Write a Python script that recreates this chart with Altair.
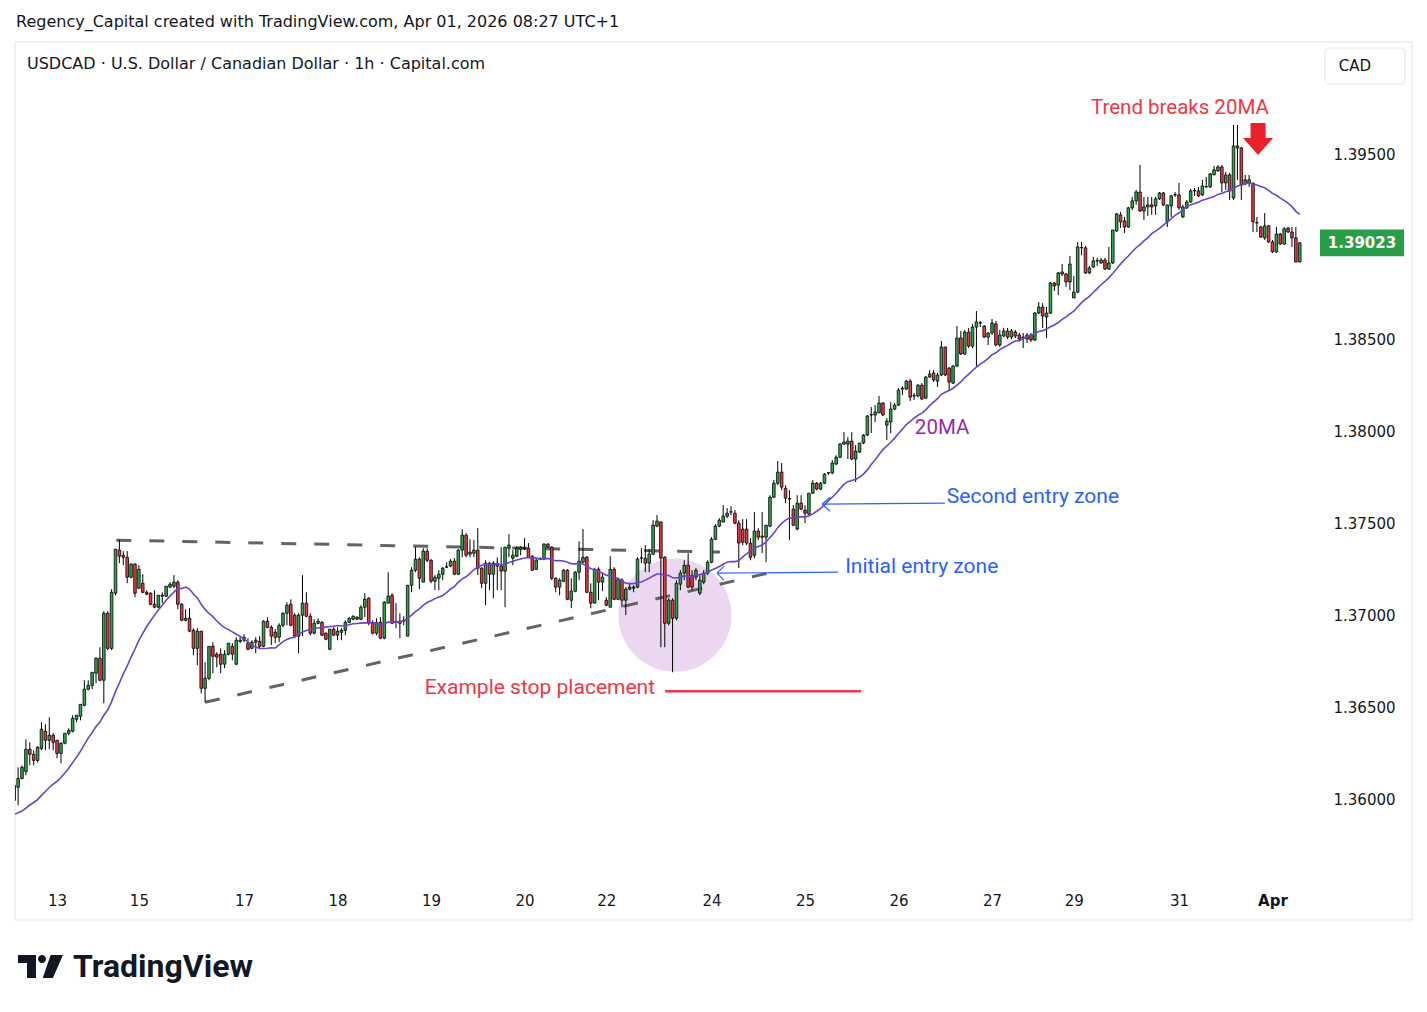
import altair as alt
import pandas as pd

HEADER = "Regency_Capital created with TradingView.com, Apr 01, 2026 08:27 UTC+1"
SYMBOL = "USDCAD · U.S. Dollar / Canadian Dollar · 1h · Capital.com"
CURRENCY = "CAD"

# Hourly closes just before the first visible bar (only feed the 20-period average)
PRIOR_CLOSE = [1.3596, 1.3598, 1.3595, 1.3592, 1.3594, 1.3597, 1.3593, 1.3590, 1.3592, 1.3595,
               1.3594, 1.3590, 1.3588, 1.3585, 1.3584, 1.3586, 1.3589, 1.3588, 1.3591]

OPEN = [
    1.35998, 1.36069, 1.36117, 1.36155, 1.36275, 1.36248, 1.36215, 1.36280, 1.36373, 1.36324,
    1.36351, 1.36324, 1.36253, 1.36308, 1.36362, 1.36373, 1.36438, 1.36454, 1.36514, 1.36601,
    1.36622, 1.36688, 1.36769, 1.36650, 1.37013, 1.36823, 1.37122, 1.37356, 1.37328, 1.37317,
    1.37209, 1.37280, 1.37149, 1.37176, 1.37127, 1.37122, 1.37062, 1.37046, 1.37106, 1.37106,
    1.37155, 1.37160, 1.37182, 1.37062, 1.36975, 1.36986, 1.36921, 1.36823, 1.36916, 1.36606,
    1.36660, 1.36834, 1.36791, 1.36791, 1.36737, 1.36791, 1.36834, 1.36737, 1.36861, 1.36867,
    1.36851, 1.36823, 1.36856, 1.36861, 1.36834, 1.36970, 1.36937, 1.36910, 1.36883, 1.36948,
    1.37013, 1.37062, 1.37003, 1.36889, 1.37003, 1.37068, 1.36997, 1.36905, 1.36959, 1.36964,
    1.36905, 1.36818, 1.36927, 1.36894, 1.36910, 1.36921, 1.36964, 1.36981, 1.36992, 1.36981,
    1.37046, 1.37095, 1.36959, 1.36905, 1.36964, 1.36878, 1.37068, 1.37111, 1.36964, 1.36970,
    1.36970, 1.36889, 1.37165, 1.37247, 1.37307, 1.37182, 1.37350, 1.37301, 1.37187, 1.37203,
    1.37225, 1.37263, 1.37269, 1.37296, 1.37225, 1.37356, 1.37437, 1.37345, 1.37339, 1.37356,
    1.37258, 1.37176, 1.37285, 1.37225, 1.37285, 1.37269, 1.37242, 1.37366, 1.37312, 1.37323,
    1.37361, 1.37366, 1.37366, 1.37323, 1.37252, 1.37307, 1.37307, 1.37388, 1.37372, 1.37203,
    1.37155, 1.37187, 1.37247, 1.37084, 1.37133, 1.37236, 1.37290, 1.37317, 1.37127, 1.37068,
    1.37252, 1.37182, 1.37084, 1.37046, 1.37252, 1.37089, 1.37193, 1.37084, 1.37144, 1.37149,
    1.37155, 1.37312, 1.37312, 1.37285, 1.37334, 1.37486, 1.37508, 1.37317, 1.36959, 1.37084,
    1.36986, 1.37171, 1.37231, 1.37274, 1.37220, 1.37209, 1.37122, 1.37182, 1.37231, 1.37290,
    1.37415, 1.37486, 1.37508, 1.37540, 1.37562, 1.37556, 1.37502, 1.37470, 1.37470, 1.37394,
    1.37328, 1.37459, 1.37426, 1.37426, 1.37486, 1.37643, 1.37719, 1.37779, 1.37692, 1.37633,
    1.37578, 1.37470, 1.37611, 1.37573, 1.37551, 1.37665, 1.37719, 1.37687, 1.37719, 1.37774,
    1.37774, 1.37823, 1.37860, 1.37931, 1.37931, 1.37947, 1.37850, 1.37888, 1.37937, 1.37980,
    1.38089, 1.38089, 1.38100, 1.38154, 1.38034, 1.38051, 1.38121, 1.38143, 1.38230, 1.38230,
    1.38273, 1.38192, 1.38192, 1.38251, 1.38181, 1.38295, 1.38317, 1.38273, 1.38306, 1.38458,
    1.38344, 1.38262, 1.38355, 1.38507, 1.38420, 1.38539, 1.38463, 1.38566, 1.38588, 1.38572,
    1.38512, 1.38534, 1.38583, 1.38469, 1.38518, 1.38545, 1.38512, 1.38539, 1.38523, 1.38507,
    1.38501, 1.38523, 1.38496, 1.38642, 1.38675, 1.38621, 1.38642, 1.38805, 1.38794, 1.38865,
    1.38854, 1.38811, 1.38724, 1.38756, 1.38996, 1.38996, 1.38860, 1.38892, 1.38925, 1.38914,
    1.38930, 1.38881, 1.38914, 1.39088, 1.39175, 1.39142, 1.39109, 1.39213, 1.39251, 1.39299,
    1.39196, 1.39218, 1.39229, 1.39224, 1.39262, 1.39294, 1.39137, 1.39224, 1.39283, 1.39283,
    1.39164, 1.39213, 1.39245, 1.39305, 1.39305, 1.39283, 1.39327, 1.39327, 1.39392, 1.39414,
    1.39435, 1.39348, 1.39392, 1.39267, 1.39549, 1.39538, 1.39343, 1.39348, 1.39348, 1.39131,
    1.39109, 1.39050, 1.39115, 1.39028, 1.38974, 1.39071, 1.39017, 1.39104, 1.39082, 1.39050,
    1.38919,
]

HIGH = [
    1.36117, 1.36177, 1.36188, 1.36329, 1.36313, 1.36270, 1.36291, 1.36422, 1.36411, 1.36449,
    1.36362, 1.36324, 1.36313, 1.36362, 1.36389, 1.36460, 1.36460, 1.36519, 1.36650, 1.36650,
    1.36693, 1.36775, 1.36829, 1.37024, 1.37024, 1.37144, 1.37361, 1.37410, 1.37350, 1.37350,
    1.37285, 1.37285, 1.37274, 1.37225, 1.37138, 1.37127, 1.37138, 1.37111, 1.37127, 1.37160,
    1.37182, 1.37220, 1.37193, 1.37068, 1.37035, 1.37041, 1.36932, 1.36932, 1.36916, 1.36747,
    1.36834, 1.36856, 1.36802, 1.36823, 1.36813, 1.36851, 1.36851, 1.36883, 1.36889, 1.36899,
    1.36878, 1.36867, 1.36883, 1.36889, 1.36975, 1.36992, 1.36948, 1.36927, 1.36959, 1.37019,
    1.37073, 1.37089, 1.37013, 1.37013, 1.37220, 1.37127, 1.37013, 1.36981, 1.36986, 1.36970,
    1.36910, 1.36927, 1.36937, 1.36937, 1.36932, 1.36975, 1.36992, 1.37003, 1.36997, 1.37057,
    1.37122, 1.37100, 1.36975, 1.36986, 1.36992, 1.37079, 1.37236, 1.37122, 1.37068, 1.37013,
    1.36997, 1.37165, 1.37263, 1.37372, 1.37317, 1.37366, 1.37366, 1.37307, 1.37220, 1.37247,
    1.37263, 1.37290, 1.37307, 1.37312, 1.37361, 1.37470, 1.37448, 1.37415, 1.37410, 1.37475,
    1.37263, 1.37301, 1.37290, 1.37296, 1.37317, 1.37372, 1.37372, 1.37442, 1.37356, 1.37377,
    1.37377, 1.37421, 1.37394, 1.37328, 1.37312, 1.37317, 1.37394, 1.37394, 1.37377, 1.37209,
    1.37203, 1.37252, 1.37252, 1.37203, 1.37242, 1.37404, 1.37470, 1.37323, 1.37176, 1.37258,
    1.37263, 1.37231, 1.37100, 1.37323, 1.37263, 1.37203, 1.37203, 1.37155, 1.37176, 1.37165,
    1.37317, 1.37366, 1.37383, 1.37361, 1.37518, 1.37546, 1.37513, 1.37323, 1.37095, 1.37095,
    1.37193, 1.37247, 1.37301, 1.37339, 1.37247, 1.37258, 1.37220, 1.37247, 1.37301, 1.37426,
    1.37497, 1.37529, 1.37600, 1.37584, 1.37594, 1.37573, 1.37518, 1.37524, 1.37524, 1.37421,
    1.37562, 1.37475, 1.37562, 1.37491, 1.37654, 1.37736, 1.37839, 1.37828, 1.37708, 1.37681,
    1.37600, 1.37654, 1.37654, 1.37600, 1.37665, 1.37736, 1.37725, 1.37725, 1.37774, 1.37779,
    1.37844, 1.37871, 1.37937, 1.37996, 1.37969, 1.37996, 1.37926, 1.37937, 1.37985, 1.38089,
    1.38132, 1.38143, 1.38192, 1.38159, 1.38072, 1.38159, 1.38154, 1.38235, 1.38246, 1.38279,
    1.38284, 1.38208, 1.38257, 1.38262, 1.38300, 1.38333, 1.38333, 1.38317, 1.38490, 1.38458,
    1.38349, 1.38360, 1.38572, 1.38545, 1.38550, 1.38561, 1.38583, 1.38653, 1.38599, 1.38577,
    1.38539, 1.38610, 1.38599, 1.38550, 1.38561, 1.38561, 1.38556, 1.38550, 1.38534, 1.38534,
    1.38534, 1.38534, 1.38648, 1.38702, 1.38696, 1.38675, 1.38811, 1.38811, 1.38865, 1.38908,
    1.38860, 1.38952, 1.38843, 1.39028, 1.39028, 1.39006, 1.38898, 1.38947, 1.38941, 1.38941,
    1.38941, 1.39001, 1.39093, 1.39185, 1.39191, 1.39164, 1.39218, 1.39272, 1.39310, 1.39446,
    1.39272, 1.39272, 1.39272, 1.39272, 1.39299, 1.39299, 1.39229, 1.39283, 1.39299, 1.39348,
    1.39229, 1.39256, 1.39316, 1.39321, 1.39327, 1.39365, 1.39381, 1.39403, 1.39441, 1.39446,
    1.39446, 1.39408, 1.39403, 1.39663, 1.39663, 1.39544, 1.39392, 1.39392, 1.39348, 1.39164,
    1.39115, 1.39185, 1.39120, 1.39039, 1.39109, 1.39077, 1.39109, 1.39109, 1.39109, 1.39109,
    1.39028,
]

LOW = [
    1.35944, 1.35971, 1.36112, 1.36134, 1.36188, 1.36188, 1.36204, 1.36270, 1.36270, 1.36275,
    1.36270, 1.36226, 1.36199, 1.36302, 1.36351, 1.36367, 1.36422, 1.36432, 1.36508, 1.36595,
    1.36601, 1.36633, 1.36644, 1.36525, 1.36813, 1.36813, 1.37111, 1.37285, 1.37274, 1.37176,
    1.37203, 1.37100, 1.37144, 1.37122, 1.37111, 1.37057, 1.37041, 1.37041, 1.37068, 1.37100,
    1.37149, 1.37149, 1.37035, 1.36970, 1.36970, 1.36910, 1.36785, 1.36731, 1.36579, 1.36530,
    1.36650, 1.36688, 1.36720, 1.36688, 1.36715, 1.36785, 1.36758, 1.36731, 1.36851, 1.36856,
    1.36813, 1.36818, 1.36796, 1.36823, 1.36829, 1.36932, 1.36840, 1.36851, 1.36856, 1.36937,
    1.36948, 1.36943, 1.36878, 1.36796, 1.36889, 1.36992, 1.36894, 1.36899, 1.36954, 1.36889,
    1.36867, 1.36813, 1.36889, 1.36867, 1.36867, 1.36894, 1.36959, 1.36975, 1.36975, 1.36975,
    1.36992, 1.36948, 1.36899, 1.36894, 1.36872, 1.36872, 1.37068, 1.36954, 1.36932, 1.36878,
    1.36948, 1.36889, 1.37127, 1.37236, 1.37144, 1.37182, 1.37290, 1.37176, 1.37138, 1.37138,
    1.37193, 1.37258, 1.37263, 1.37220, 1.37220, 1.37317, 1.37317, 1.37317, 1.37317, 1.37220,
    1.37149, 1.37057, 1.37138, 1.37095, 1.37138, 1.37138, 1.37046, 1.37317, 1.37274, 1.37317,
    1.37328, 1.37356, 1.37312, 1.37242, 1.37247, 1.37301, 1.37301, 1.37366, 1.37193, 1.37127,
    1.37111, 1.37182, 1.37084, 1.37041, 1.37127, 1.37193, 1.37290, 1.37122, 1.37041, 1.37068,
    1.37084, 1.37133, 1.37052, 1.37046, 1.37084, 1.37084, 1.37046, 1.37003, 1.37138, 1.37127,
    1.37149, 1.37285, 1.37236, 1.37236, 1.37328, 1.37480, 1.36829, 1.36829, 1.36948, 1.36693,
    1.36975, 1.37138, 1.37193, 1.37149, 1.37138, 1.37193, 1.37111, 1.37171, 1.37220, 1.37285,
    1.37410, 1.37480, 1.37508, 1.37529, 1.37546, 1.37497, 1.37258, 1.37383, 1.37383, 1.37301,
    1.37312, 1.37410, 1.37339, 1.37290, 1.37480, 1.37638, 1.37708, 1.37681, 1.37611, 1.37410,
    1.37486, 1.37464, 1.37573, 1.37502, 1.37546, 1.37660, 1.37681, 1.37681, 1.37714, 1.37763,
    1.37768, 1.37817, 1.37855, 1.37926, 1.37850, 1.37844, 1.37725, 1.37882, 1.37931, 1.37974,
    1.37991, 1.38051, 1.38100, 1.38083, 1.37953, 1.37991, 1.38116, 1.38138, 1.38197, 1.38224,
    1.38165, 1.38170, 1.38186, 1.38170, 1.38176, 1.38290, 1.38268, 1.38241, 1.38300, 1.38300,
    1.38224, 1.38257, 1.38349, 1.38415, 1.38415, 1.38452, 1.38452, 1.38355, 1.38566, 1.38507,
    1.38469, 1.38523, 1.38463, 1.38458, 1.38512, 1.38501, 1.38501, 1.38507, 1.38490, 1.38452,
    1.38480, 1.38485, 1.38490, 1.38637, 1.38561, 1.38507, 1.38637, 1.38762, 1.38740, 1.38843,
    1.38784, 1.38767, 1.38724, 1.38751, 1.38957, 1.38854, 1.38854, 1.38887, 1.38898, 1.38908,
    1.38876, 1.38876, 1.38908, 1.39082, 1.39104, 1.39077, 1.39104, 1.39202, 1.39229, 1.39191,
    1.39147, 1.39169, 1.39175, 1.39175, 1.39256, 1.39224, 1.39109, 1.39164, 1.39272, 1.39202,
    1.39158, 1.39207, 1.39240, 1.39278, 1.39272, 1.39278, 1.39321, 1.39321, 1.39392, 1.39408,
    1.39299, 1.39310, 1.39256, 1.39256, 1.39365, 1.39256, 1.39337, 1.39327, 1.39082, 1.39082,
    1.39050, 1.39039, 1.39023, 1.38968, 1.38968, 1.39012, 1.39012, 1.39077, 1.39001, 1.38919,
    1.38919,
]

CLOSE = [
    1.36079, 1.36117, 1.36177, 1.36275, 1.36248, 1.36215, 1.36286, 1.36384, 1.36324, 1.36351,
    1.36313, 1.36253, 1.36308, 1.36362, 1.36378, 1.36443, 1.36460, 1.36519, 1.36601, 1.36622,
    1.36693, 1.36769, 1.36650, 1.37013, 1.36823, 1.37127, 1.37361, 1.37323, 1.37317, 1.37209,
    1.37280, 1.37122, 1.37252, 1.37127, 1.37117, 1.37062, 1.37046, 1.37111, 1.37111, 1.37160,
    1.37171, 1.37182, 1.37062, 1.36975, 1.36986, 1.36916, 1.36823, 1.36916, 1.36606, 1.36660,
    1.36834, 1.36780, 1.36775, 1.36737, 1.36791, 1.36851, 1.36791, 1.36867, 1.36867, 1.36883,
    1.36818, 1.36856, 1.36867, 1.36834, 1.36970, 1.36937, 1.36889, 1.36883, 1.36948, 1.37013,
    1.37057, 1.36948, 1.36889, 1.37003, 1.37068, 1.36997, 1.36905, 1.36959, 1.36970, 1.36894,
    1.36872, 1.36927, 1.36894, 1.36916, 1.36921, 1.36964, 1.36986, 1.36997, 1.36981, 1.37046,
    1.37089, 1.36959, 1.36905, 1.36964, 1.36878, 1.37073, 1.37106, 1.36959, 1.36970, 1.36959,
    1.36975, 1.37165, 1.37247, 1.37307, 1.37203, 1.37350, 1.37301, 1.37187, 1.37209, 1.37225,
    1.37258, 1.37265, 1.37296, 1.37225, 1.37356, 1.37437, 1.37328, 1.37334, 1.37356, 1.37258,
    1.37176, 1.37285, 1.37225, 1.37285, 1.37269, 1.37242, 1.37372, 1.37383, 1.37328, 1.37366,
    1.37372, 1.37368, 1.37317, 1.37247, 1.37301, 1.37309, 1.37388, 1.37372, 1.37203, 1.37155,
    1.37193, 1.37247, 1.37089, 1.37133, 1.37236, 1.37296, 1.37317, 1.37127, 1.37068, 1.37252,
    1.37182, 1.37209, 1.37057, 1.37252, 1.37089, 1.37198, 1.37084, 1.37144, 1.37155, 1.37155,
    1.37307, 1.37314, 1.37285, 1.37334, 1.37491, 1.37513, 1.37312, 1.36959, 1.37084, 1.36986,
    1.37176, 1.37231, 1.37274, 1.37155, 1.37155, 1.37247, 1.37193, 1.37231, 1.37290, 1.37415,
    1.37486, 1.37518, 1.37540, 1.37556, 1.37564, 1.37502, 1.37394, 1.37399, 1.37394, 1.37317,
    1.37459, 1.37426, 1.37432, 1.37491, 1.37643, 1.37719, 1.37779, 1.37698, 1.37638, 1.37635,
    1.37491, 1.37611, 1.37578, 1.37556, 1.37665, 1.37719, 1.37687, 1.37719, 1.37768, 1.37776,
    1.37828, 1.37860, 1.37931, 1.37942, 1.37947, 1.37850, 1.37893, 1.37937, 1.37980, 1.38083,
    1.38091, 1.38105, 1.38154, 1.38089, 1.38056, 1.38121, 1.38143, 1.38224, 1.38235, 1.38273,
    1.38186, 1.38194, 1.38251, 1.38176, 1.38295, 1.38311, 1.38279, 1.38306, 1.38458, 1.38306,
    1.38268, 1.38355, 1.38507, 1.38420, 1.38539, 1.38463, 1.38566, 1.38594, 1.38590, 1.38512,
    1.38534, 1.38588, 1.38469, 1.38523, 1.38545, 1.38512, 1.38545, 1.38518, 1.38501, 1.38512,
    1.38523, 1.38496, 1.38642, 1.38675, 1.38626, 1.38642, 1.38805, 1.38789, 1.38860, 1.38854,
    1.38811, 1.38908, 1.38756, 1.39001, 1.38998, 1.38860, 1.38887, 1.38925, 1.38927, 1.38930,
    1.38881, 1.38914, 1.39093, 1.39180, 1.39137, 1.39109, 1.39213, 1.39251, 1.39299, 1.39196,
    1.39218, 1.39229, 1.39218, 1.39262, 1.39294, 1.39229, 1.39229, 1.39278, 1.39285, 1.39213,
    1.39218, 1.39245, 1.39305, 1.39307, 1.39278, 1.39332, 1.39329, 1.39397, 1.39419, 1.39435,
    1.39348, 1.39392, 1.39305, 1.39549, 1.39538, 1.39337, 1.39365, 1.39365, 1.39137, 1.39133,
    1.39055, 1.39115, 1.39028, 1.38974, 1.39071, 1.39017, 1.39099, 1.39082, 1.39050, 1.38919,
    1.39023,
]

# Time axis: bar index of the first hour of each labelled day
DAY_TICKS = [11, 32, 59, 83, 107, 131, 152, 179, 203, 227, 251, 272, 299, 323]
DAY_LABELS = ["13", "15", "17", "18", "19", "20", "22", "24", "25", "26", "27", "29", "31", "Apr"]
# 1.39000 sits under the last-price tag and is not labelled
PRICE_TICKS = [1.360, 1.365, 1.370, 1.375, 1.380, 1.385, 1.395]

# Drawings (bar index, price)
TRIANGLE_TOP = (26.2, 1.37410, 181.2, 1.37345)
TRIANGLE_BOTTOM = (49.0, 1.36530, 193.5, 1.37231)
STOP_LEVEL = (167.1, 217.4, 1.36590)
HIGHLIGHT = (169.6, 1.37003)
BREAK_ARROW = (319.3, 1.39587)

GREEN = "#2ea84a"
RED = "#f23645"
BLUE = "#2962ff"
MA_COLOR = "#6a45c9"
TEXT = "#131722"
FONT = "Roboto"
UI_FONT = "DejaVu Sans"

W, H = 1298, 840
X_DOMAIN = [0.2, 333.4]
Y_DOMAIN = [1.35555, 1.40113]

n = len(CLOSE)
closes_all = pd.Series(PRIOR_CLOSE + CLOSE)
ma20 = closes_all.rolling(20).mean().iloc[len(PRIOR_CLOSE):].to_numpy()

bars = pd.DataFrame({
    "i": list(range(n)),
    "open": OPEN,
    "high": [max(h, o, c) for h, o, c in zip(HIGH, OPEN, CLOSE)],
    "low": [min(l, o, c) for l, o, c in zip(LOW, OPEN, CLOSE)],
    "close": CLOSE,
    "ma": ma20,
})

xs = alt.Scale(domain=X_DOMAIN, nice=False, zero=False, padding=0)
ys = alt.Scale(domain=Y_DOMAIN, nice=False, zero=False, padding=0)

x_axis = alt.Axis(
    values=DAY_TICKS,
    labelExpr="%s[indexof(%s, datum.value)]" % (DAY_LABELS, DAY_TICKS),
    grid=False, ticks=False, domain=False, labelFontSize=15, labelColor=TEXT,
    labelFont=UI_FONT, labelPadding=11, labelFlush=False, labelOverlap=False,
    labelFontWeight={"condition": {"test": "datum.value == 323", "value": "bold"}, "value": "normal"},
)
y_axis = alt.Axis(
    orient="right", values=PRICE_TICKS, format=".5f", grid=False, ticks=False, domain=False,
    labelFontSize=15, labelColor=TEXT, labelFont=UI_FONT, labelPadding=20, labelAlign="left",
    labelFlush=False, labelOverlap=False,
)


def X(field):
    return alt.X(field, type="quantitative", scale=xs, axis=x_axis, title=None)


def Y(field):
    return alt.Y(field, type="quantitative", scale=ys, axis=y_axis, title=None)


base = alt.Chart(bars)

# Highlight circle behind the candles
circle = alt.Chart(pd.DataFrame({"i": [HIGHLIGHT[0]], "p": [HIGHLIGHT[1]]})).mark_point(
    shape="circle", filled=True, size=12800, color="#ebd8f0", opacity=1, strokeWidth=0
).encode(x=X("i"), y=Y("p"))

# Converging triangle boundaries
tri = pd.DataFrame({
    "x1": [TRIANGLE_TOP[0], TRIANGLE_BOTTOM[0]],
    "y1": [TRIANGLE_TOP[1], TRIANGLE_BOTTOM[1]],
    "x2": [TRIANGLE_TOP[2], TRIANGLE_BOTTOM[2]],
    "y2": [TRIANGLE_TOP[3], TRIANGLE_BOTTOM[3]],
})
tri_lines = alt.Chart(tri).mark_rule(
    color="#5c5c5c", strokeWidth=3, strokeDash=[15, 18], opacity=0.95
).encode(x=X("x1"), y=Y("y1"), x2="x2", y2="y2")

wicks = base.mark_rule(color="#000000", strokeWidth=1, clip=True).encode(
    x=X("i"), y=Y("low"), y2="high"
)
bodies = base.mark_bar(width=2.6, stroke="#000000", strokeWidth=0.8, clip=True).encode(
    x=X("i"), y=Y("open"), y2="close",
    color=alt.condition("datum.close >= datum.open", alt.value(GREEN), alt.value(RED)),
)
ma_line = base.mark_line(color=MA_COLOR, strokeWidth=1.6, clip=True).encode(
    x=X("i"), y=Y("ma")
)

# Stop level
stop = alt.Chart(pd.DataFrame({"a": [STOP_LEVEL[0]], "b": [STOP_LEVEL[1]], "p": [STOP_LEVEL[2]]})).mark_rule(
    color=RED, strokeWidth=2.5
).encode(x=X("a"), x2="b", y=Y("p"))

# Entry-zone pointers: shaft plus a chevron at the tip
pointers = pd.DataFrame({
    "x1": [207.4, 207.4, 207.4, 180.4, 180.4, 180.4],
    "y1": [1.37605, 1.37605, 1.37605, 1.37231, 1.37231, 1.37231],
    "x2": [238.9, 209.4, 209.4, 211.5, 182.2, 182.2],
    "y2": [1.37611, 1.37643, 1.37567, 1.37236, 1.37269, 1.37193],
})
pointer_lines = alt.Chart(pointers).mark_rule(color=BLUE, strokeWidth=1.2).encode(
    x=X("x1"), y=Y("y1"), x2="x2", y2="y2"
)

notes = [
    ("Trend breaks 20MA", 276.4, 1.39755, RED, "left", 20.5),
    ("Example stop placement", 164.5, 1.36606, RED, "right", 21),
    ("20MA", 231.2, 1.38018, "#9c27b0", "left", 20.5),
    ("Second entry zone", 239.4, 1.37643, BLUE, "left", 21),
    ("Initial entry zone", 213.3, 1.37263, BLUE, "left", 21),
]
note_layers = []
for text, xi, price, colour, align, size in notes:
    note_layers.append(
        alt.Chart(pd.DataFrame({"t": [text], "i": [xi], "p": [price]})).mark_text(
            align=align, baseline="middle", fontSize=size, font=FONT, color=colour
        ).encode(x=X("i"), y=Y("p"), text="t:N")
    )

arrow = alt.Chart(pd.DataFrame({"i": [BREAK_ARROW[0]], "p": [BREAK_ARROW[1]]})).mark_point(
    shape="M -0.47 -1 L 0.47 -1 L 0.47 -0.06 L 0.94 -0.06 L 0 1 L -0.94 -0.06 L -0.47 -0.06 Z",
    filled=True, size=1024, color="#e8212b", opacity=1, strokeWidth=0,
).encode(x=X("i"), y=Y("p"))

# Last price tag on the price scale
last = pd.DataFrame({"p": [CLOSE[-1]], "t": ["%.5f" % CLOSE[-1]]})
tag = alt.Chart(last).mark_point(
    shape="M -1 -0.32 L 1 -0.32 L 1 0.32 L -1 0.32 Z", filled=True, size=7056,
    color="#2a9d48", opacity=1, strokeWidth=0,
).encode(x=alt.value(1347), y=Y("p"))
tag_text = alt.Chart(last).mark_text(
    align="center", baseline="middle", fontSize=15, fontWeight="bold", font=UI_FONT, color="#ffffff"
).encode(x=alt.value(1347), y=Y("p"), text="t:N")

one = pd.DataFrame({"k": [0]})
frame = alt.Chart(one).mark_rect(fillOpacity=0, stroke="#e0e3eb", strokeWidth=1).encode(
    x=alt.value(0), x2=alt.value(1397), y=alt.value(0), y2=alt.value(878)
)
cad_box = alt.Chart(one).mark_rect(
    fill="#ffffff", stroke="#e0e3eb", strokeWidth=1, cornerRadius=4
).encode(x=alt.value(1310), x2=alt.value(1390), y=alt.value(6), y2=alt.value(42))


def label(text, x, y, size=16, weight="normal", align="left", font=FONT):
    return alt.Chart(pd.DataFrame({"t": [text]})).mark_text(
        align=align, baseline="middle", fontSize=size, fontWeight=weight, font=font, color=TEXT
    ).encode(x=alt.value(x), y=alt.value(y), text="t:N")


header = label(HEADER, 1, -20, size=16, font=UI_FONT)
symbol = label(SYMBOL, 12, 22, size=16, font=UI_FONT)
cad = label(CURRENCY, 1340, 24, size=15, align="center", font=UI_FONT)
brand = label("TradingView", 58, 925, size=32, weight="bold")
logo = alt.Chart(one).mark_point(
    shape=("M -1 -0.511 L -0.2 -0.511 L -0.2 0.511 L -0.6 0.511 L -0.6 -0.156 L -1 -0.156 Z "
           "M -0.111 -0.333 A 0.178 0.178 0 1 0 0.245 -0.333 A 0.178 0.178 0 1 0 -0.111 -0.333 Z "
           "M 0.45 -0.511 L 1 -0.511 L 0.55 0.511 L 0.1 0.511 Z"),
    filled=True, size=2025, color=TEXT, opacity=1, strokeWidth=0,
).encode(x=alt.value(25.5), y=alt.value(924.5))

chart = alt.layer(
    frame, circle, tri_lines, wicks, bodies, ma_line, stop, pointer_lines, *note_layers,
    arrow, tag, tag_text, cad_box, header, symbol, cad, brand, logo,
).properties(
    width=W, height=H,
    autosize=alt.AutoSizeParams(type="none"),
    padding={"left": 15, "top": 42, "right": 114, "bottom": 130},
    background="#ffffff",
).configure_view(strokeWidth=0)

chart.save("out.html", embed_options={"renderer": "svg", "actions": False})
